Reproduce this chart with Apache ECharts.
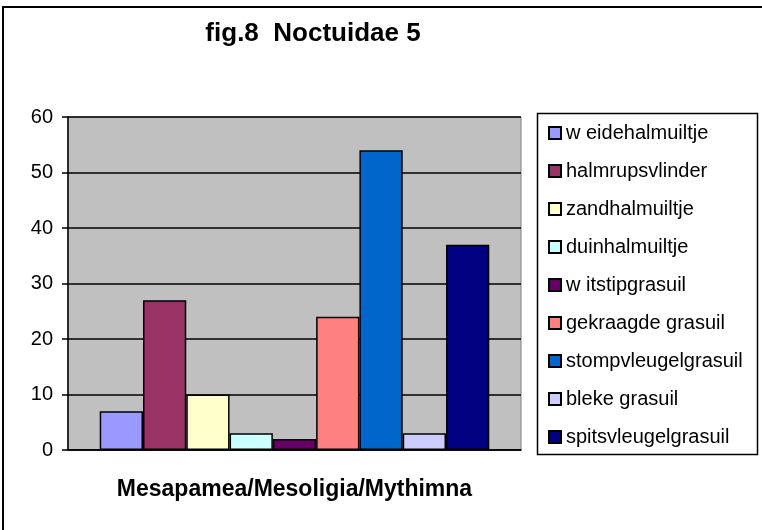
<!DOCTYPE html>
<html>
<head>
<meta charset="utf-8">
<script src="https://cdn.jsdelivr.net/npm/echarts@6/dist/echarts.min.js"></script>
<style>
    html, body {margin: 0; padding: 0; background: #fff;}
    #chart {width: 762px; height: 530px;}
</style>
</head>
<body>
<div id="chart"></div>
<script>
// 数据
var categories = ['Mesapamea/Mesoligia/Mythimna'];
var seriesNames = ['w eidehalmuiltje', 'halmrupsvlinder', 'zandhalmuiltje', 'duinhalmuiltje', 'w itstipgrasuil',
    'gekraagde grasuil', 'stompvleugelgrasuil', 'bleke grasuil', 'spitsvleugelgrasuil'];
var seriesValues = [7, 27, 10, 3, 2, 24, 54, 3, 37];
var seriesColors = ['#9999FF', '#993366', '#FFFFCC', '#CCFFFF', '#660066', '#FF8080', '#0066CC', '#CCCCFF', '#000080'];
var yTicks = [0, 10, 20, 30, 40, 50, 60];

var font = 'Liberation Sans, Arial, sans-serif';

var series = [];
for (var i = 0; i < seriesNames.length; i++) {
    series.push({
        name: seriesNames[i],
        type: 'bar',
        barGap: 0,
        barCategoryGap: '14%',
        itemStyle: {color: seriesColors[i], borderColor: '#000', borderWidth: 1.5},
        data: [seriesValues[i]]
    });
}

var chart = echarts.init(document.getElementById('chart'));
chart.setOption({
    animation: false,
    title: {
        text: 'fig.8  Noctuidae 5',
        left: 308,
        top: 16,
        textAlign: 'center',
        textStyle: {fontFamily: font, fontSize: 26, fontWeight: 'bold', color: '#000'}
    },
    graphic: [
        {type: 'rect', shape: {x: 3, y: 7, width: 780, height: 560}, style: {fill: null, stroke: '#000', lineWidth: 2}},
        {type: 'rect', shape: {x: 537.5, y: 113.5, width: 220, height: 341}, style: {fill: '#fff', stroke: '#000', lineWidth: 1.5}, z: -1}
    ],
    legend: {
        orient: 'vertical',
        left: 548,
        top: 123,
        icon: 'rect',
        itemWidth: 12,
        itemHeight: 12,
        itemGap: 18,
        padding: 0,
        textStyle: {fontFamily: font, fontSize: 20, color: '#000', lineHeight: 20},
        data: seriesNames
    },
    grid: {
        left: 68, right: 241, top: 117, bottom: 80,
        show: true, backgroundColor: '#C0C0C0', borderColor: '#808080', borderWidth: 1
    },
    xAxis: {
        type: 'category',
        data: categories,
        axisLine: {lineStyle: {color: '#000', width: 1.5}},
        axisTick: {show: false},
        axisLabel: {margin: 28, fontFamily: font, fontSize: 23, fontWeight: 'bold', color: '#000'}
    },
    yAxis: {
        type: 'value',
        min: yTicks[0],
        max: yTicks[yTicks.length - 1],
        interval: 10,
        axisLine: {show: true, lineStyle: {color: '#000', width: 1.5}},
        axisTick: {show: true, length: 6, lineStyle: {color: '#000', width: 1.5}},
        axisLabel: {margin: 15, fontFamily: font, fontSize: 20, color: '#000'},
        splitLine: {lineStyle: {color: '#000', width: 1.5}}
    },
    series: series
});
</script>
</body>
</html>
